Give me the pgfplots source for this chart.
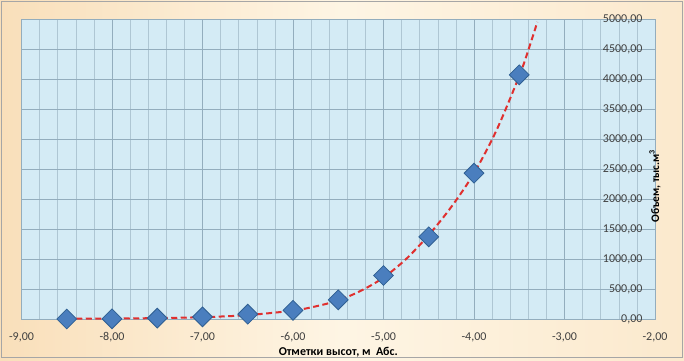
\documentclass[border=0pt]{standalone}
\usepackage{pgfplots}
\pgfplotsset{compat=1.18}
\usepackage{fontspec}
\setmainfont{Carlito}
\definecolor{plotblue}{HTML}{D4EBF5}
\definecolor{gridc}{HTML}{93ADBD}
\definecolor{gridm}{HTML}{AEC6D3}
\definecolor{dfill}{HTML}{4A7EBE}
\definecolor{ddraw}{HTML}{2F5F92}
\definecolor{trend}{HTML}{E0302F}
\definecolor{bgl}{HTML}{F9DFBA}
\definecolor{bgm}{HTML}{FEF5E4}
\definecolor{bgr}{HTML}{FBE9CD}
\definecolor{txt}{HTML}{404040}
\begin{document}
\begin{tikzpicture}[x=1pt,y=1pt]
\shade[left color=bgl, right color=bgr, middle color=bgm] (0,0) rectangle (684,360);
\draw[color=gray!70, line width=1.5pt] (1.5,2.5) rectangle (682.5,358.5);
\begin{axis}[
  width=633.5pt, height=300pt, scale only axis,
  at={(21.5pt,41pt)}, anchor=south west,
  xmin=-9, xmax=-2, ymin=0, ymax=5000,
  xtick={-9,-8,...,-2}, ytick={0,500,...,5000},
  minor x tick num=4,
  grid=both,
  major grid style={color=gridc, line width=0.6pt},
  minor grid style={color=gridm, line width=0.5pt},
  axis background/.style={fill=plotblue},
  axis line style={color=gridc, line width=0.6pt},
  xtick style={draw=none},
  minor tick length=0pt,
  ytick pos=right, yticklabel pos=right, tick align=inside,
  major tick length=8pt,
  ytick style={color=gridc, line width=0.6pt},
  yticklabel style={anchor=east, xshift=-9pt, color=txt, font=\fontsize{12}{14}\selectfont},
  xticklabel style={yshift=-10pt, color=txt, font=\fontsize{12}{14}\selectfont},
  /pgf/number format/.cd, fixed, fixed zerofill, precision=2, use comma, 1000 sep={}, assume math mode=true,
  /pgfplots/.cd,
  xlabel={Отметки высот, м\ \ Абс.},
  xlabel style={at={(axis description cs:0.5,0)}, anchor=center, yshift=-33pt, font=\bfseries\fontsize{12}{14}\selectfont, color=black},
  ylabel={Объем, тыс.м\textsuperscript{3}},
  ylabel style={at={(axis description cs:1,0.40)}, anchor=center, xshift=13pt, font=\bfseries\fontsize{11.5}{14}\selectfont, color=black},
  clip=false,
]
\addplot[only marks, mark=square*, mark size=7pt, mark options={rotate=45, fill=dfill, draw=ddraw, line width=0.8pt}]
coordinates {
(-8.5,0) (-8,3) (-7.5,15) (-7,35) (-6.5,80) (-6,145) (-5.5,320) (-5,725) (-4.5,1370) (-4,2430) (-3.5,4070)
};
\addplot[trend, line width=2pt, dash pattern=on 6pt off 3.5pt, smooth, no markers]
coordinates {
(-8.5,5) (-8,8) (-7.5,15) (-7,30) (-6.5,65) (-6,140) (-5.75,210) (-5.5,310) (-5.25,470) (-5,690) (-4.75,1000) (-4.5,1400) (-4.25,1870) (-4,2430) (-3.75,3150) (-3.5,4050) (-3.4,4480) (-3.3,4950)
};
\end{axis}
\end{tikzpicture}
\end{document}
